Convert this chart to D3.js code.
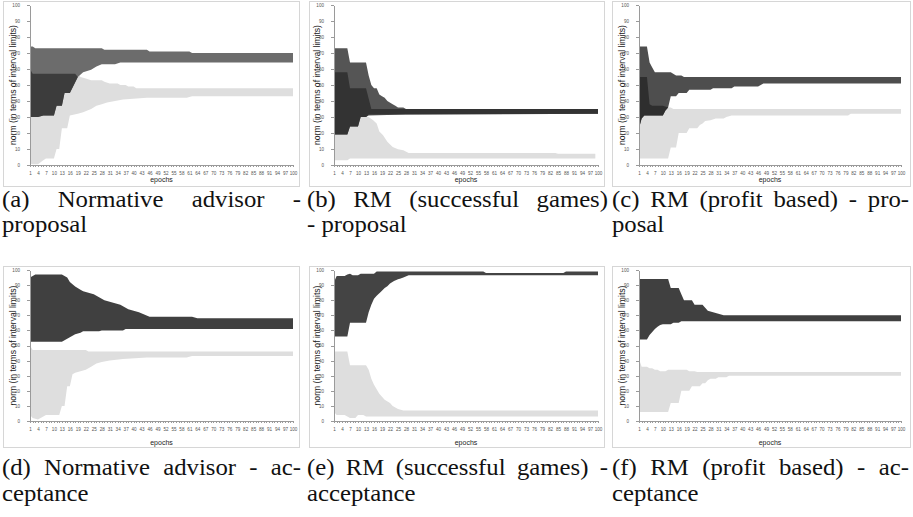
<!DOCTYPE html>
<html>
<head>
<meta charset="utf-8">
<script src="https://cdn.jsdelivr.net/npm/d3@7"></script>
<style>
body { margin:0; background:#fff; }
svg { display:block; }
.axis text { font-family:"Liberation Sans", Arial, sans-serif; fill:#555; }
.axis path, .axis line { stroke:#9a9a9a; shape-rendering:crispEdges; }
</style>
</head>
<body>
<div id="chart-area"></div>
<script>
/*
*    six interval charts, [epoch, norm] breakpoints
*/

var yTicks = [0,10,20,30,40,50,60,70,80,90,100];
var xLabels = [1,4,7,10,13,16,19,22,25,28,31,34,37,40,43,46,49,52,55,58,61,64,67,70,73,76,79,82,85,88,91,94,97,100];

// (a) normative advisor - proposal
var aLightLo = [[1,1],[2,0.5],[4,0.5],[6,3],[7,4],[10,4],[11,10],[12,10],[13,23],[15,23],[16,31],[19,32],[21,33],[24,35],[26,37],[28,38],[30,39],[33,40],[36,41],[45,42],[60,42],[62,43],[100,43]];
var aLightHi = [[1,60],[2,57],[19,57],[20,55],[22,54],[24,53],[28,53],[29,52],[31,51],[34,51],[35,50],[37,50],[38,49],[40,49],[41,48],[100,48]];
var aMidLo = [[1,30],[4,30],[6,31],[10,31],[11,37],[13,37],[14,45],[16,45],[19,55],[21,58],[24,59.5],[26,61.5],[28,63],[33,63],[35,64],[100,64]];
var aMidHi = [[1,74],[2,74],[3,73],[28,73],[29,72],[45,72],[46,71],[61,71],[62,70],[100,70]];
var aDarkLo = [[1,30],[4,30],[6,31],[10,31],[11,37],[13,37],[14,45],[16,45],[19,55]];
var aDarkHi = [[1,60],[2,57],[18,57],[19,55]];

// (b) RM (successful games) - proposal
var bLightLo = [[1,3],[6,3],[7,4],[99,4]];
var bLightHi = [[1,19],[6,19],[7,24],[10,24],[11,30],[14,30],[15.7,28],[17,26],[18,21],[19.4,18.6],[21,14.5],[23,11.3],[25,9.8],[27,9.2],[29,7.5],[84,7.5],[85,7],[99,7]];
var bMidLo = [[1,19],[6,19],[7,24],[10,24],[11,30],[13,30],[14,31],[28,31.5],[100,32]];
var bMidHi = [[1,73],[6,73],[7,64],[13,64],[14,56],[15,50],[16,48],[17,48],[18,44],[19,43],[20,42],[21,40],[23,38],[24,37],[25,36],[27,36],[28,35],[100,35]];
var bDarkLo = [[1,19],[6,19],[7,24],[10,24],[11,30],[13,30],[14,31.5],[100,32]];
var bDarkHi = [[1,58],[6,58],[7,48],[13,48],[15,35],[100,35]];

// (c) RM (profit based) - proposal
var cLightLo = [[1,4],[12,4],[13,11],[15,11],[16,20],[19,20],[20,23],[23,23],[24,25],[25,26],[26,27.5],[28,28],[30,29],[33,29],[34,30],[36,31],[80,31],[81,32],[100,32]];
var cLightHi = [[1,23],[2,29],[3,31],[10,31],[11,34],[12,36],[13,36],[14,35],[100,35]];
var cMidLo = [[1,23],[2,29],[3,31],[10,31],[11,34],[12,36],[13,43],[15,43],[16,45],[19,45],[20,47],[28,47],[29,48],[36,48],[37,49],[46,49],[48,51],[100,51]];
var cMidHi = [[1,74],[4,74],[5,64],[6,61],[7,58],[13,58],[15,56],[17,56],[18,55],[100,55]];
var cDarkLo = [[1,23],[2,29],[3,31],[10,31],[11,34],[12,36]];
var cDarkHi = [[1,55],[4,55],[5,38],[6,37],[10,37],[12,36]];

// (d) normative advisor - acceptance
var dLightLo = [[1,4],[2,2],[4,1],[6,3],[7,4],[12,4],[13,10],[14,10],[15,23],[16,23],[17,31],[18,32],[20,33],[22,34],[24,36],[26,38],[28,39],[31,40],[36,41],[45,42],[60,42],[62,43],[100,43]];
var dLightHi = [[1,50],[2,47],[22,47],[23,46],[100,46]];
var dDarkLo = [[1,52.5],[13,52.5],[14,53.5],[16,55.5],[17,56.5],[18,57.5],[19,58],[20,58.5],[21,59.5],[27,59.5],[28,60],[36,60],[37,61],[100,61]];
var dDarkHi = [[1,95],[3,97],[13,97],[14,96],[15,95],[16,92],[18,89],[20,87],[21,86],[23,85],[25,84],[26,83],[27,82],[29,80],[31,79],[33,78],[35,77],[37,75],[38,74],[40,73],[42,72],[44,70.5],[46,69],[62,69],[64,68],[100,68]];

// (e) RM (successful games) - acceptance
var eLightLo = [[1,6],[2,4],[5,4],[6,3],[7,2],[9,2],[10,4],[12,4],[13,3],[100,3]];
var eLightHi = [[1,46],[6,46],[7,37],[13,37],[14,34],[15,28],[16,24],[17,21],[18,18],[19,16],[20,14],[22,12],[23,10],[25,8],[27,7],[100,7]];
var eDarkLo = [[1,56],[6,56],[7,65],[13,65],[14,72],[15,77],[16,81],[17,83],[18.5,85.5],[20,88],[21,89.3],[22,91],[23.5,92.7],[25,93.8],[26,94.4],[27,95],[29,96.5],[100,96.5]];
var eDarkHi = [[1,92],[2,96],[5,96],[6,97],[7,97.5],[8,96.5],[10,96.5],[11,97.5],[16,97.5],[17,99],[57,99],[58,98],[87,98],[88,99],[100,99]];

// (f) RM (profit based) - acceptance
var fLightLo = [[1,6],[12,6],[13,12],[16,12],[17,20],[20,20],[21,23],[24,23],[25,25],[26,25],[27,27],[28,28],[30,28],[31,29],[34,29],[35,30],[100,30]];
var fLightHi = [[1,41],[2,36],[4,36],[5,35],[6,35],[7,34],[8,34],[9,33],[11,33],[12,34],[19,34],[20,33],[22,33],[23,32.5],[100,32.5]];
var fDarkLo = [[1,54],[4,54],[5,57],[6,59],[7,61],[8,62.5],[9,63.5],[10,64],[13,64],[14,65],[16,65],[17,66],[100,66]];
var fDarkHi = [[1,94],[12,94],[13,88],[16,88],[17,84],[18,80],[21,80],[22,77],[25,77],[26,75],[27,73],[29,72],[31,71],[33,70],[100,70]];

var captions = [
    ["(a) Normative advisor -", "proposal"],
    ["(b) RM (successful games)", "- proposal"],
    ["(c) RM (profit based) - pro-", "posal"],
    ["(d) Normative advisor - ac-", "ceptance"],
    ["(e) RM (successful games) -", "acceptance"],
    ["(f) RM (profit based) - ac-", "ceptance"]
];

var light = "#dedede", mid = "#6c6c6c", mid2 = "#555555", dark = "#3c3c3c";

var panels = [
    { col:0, row:0, bands:[
        {lo:aLightLo, hi:aLightHi, fill:light},
        {lo:aMidLo, hi:aMidHi, fill:mid},
        {lo:aDarkLo, hi:aDarkHi, fill:dark}] },
    { col:1, row:0, bands:[
        {lo:bLightLo, hi:bLightHi, fill:light},
        {lo:bMidLo, hi:bMidHi, fill:mid2},
        {lo:bDarkLo, hi:bDarkHi, fill:"#333333"}] },
    { col:2, row:0, bands:[
        {lo:cLightLo, hi:cLightHi, fill:light},
        {lo:cMidLo, hi:cMidHi, fill:"#4e4e4e"},
        {lo:cDarkLo, hi:cDarkHi, fill:"#2e2e2e"}] },
    { col:0, row:1, bands:[
        {lo:dLightLo, hi:dLightHi, fill:light},
        {lo:dDarkLo, hi:dDarkHi, fill:"#404040"}] },
    { col:1, row:1, bands:[
        {lo:eLightLo, hi:eLightHi, fill:light},
        {lo:eDarkLo, hi:eDarkHi, fill:"#444444"}] },
    { col:2, row:1, bands:[
        {lo:fLightLo, hi:fLightHi, fill:light},
        {lo:fDarkLo, hi:fDarkHi, fill:"#404040"}] }
];

// layout
var cols = [
    { box:[3,299], plot:[30,293], cap:[2,301] },
    { box:[309,604], plot:[334,598], cap:[307,608] },
    { box:[612,910], plot:[639,901], cap:[612,909] }
];
var rows = [
    { box:[1,186], plot:[5,165], epochs:182, cap:[207,232] },
    { box:[266,447], plot:[270,421], epochs:445, cap:[475,501] }
];

// caption font: serif, stretched a little to get the width of the LaTeX face
var capSize = 22.5, capStretch = 1.1;

var svg = d3.select("#chart-area").append("svg")
    .attr("width", 913)
    .attr("height", 517);

var allEpochs = d3.range(1, 101);

function capText(str, x, y) {
    return svg.append("text")
        .attr("transform", "translate(" + x + "," + y + ") scale(" + capStretch + ",1)")
        .style("font-family", "Liberation Serif, Times New Roman, serif")
        .style("font-size", capSize + "px")
        .attr("fill", "#111")
        .text(str);
}

panels.forEach(function(p, i){
    var c = cols[p.col], r = rows[p.row];

    // panel frame
    svg.append("rect")
        .attr("x", c.box[0] + 0.5)
        .attr("y", r.box[0] + 0.5)
        .attr("width", c.box[1] - c.box[0])
        .attr("height", r.box[1] - r.box[0])
        .attr("fill", "none")
        .attr("stroke", "#d6d6d6");

    var x = d3.scaleLinear().domain([1, 100]).range(c.plot);
    var y = d3.scaleLinear().domain([0, 100]).range([r.plot[1], r.plot[0]]);

    var g = svg.append("g");

    var line = d3.line()
        .x(function(d){ return x(d[0]); })
        .y(function(d){ return y(d[1]); });

    p.bands.forEach(function(b){
        var pts = b.hi.concat(b.lo.slice().reverse());
        g.append("path")
            .attr("d", line(pts) + "Z")
            .attr("fill", b.fill);
    });

    // axes
    var yAxis = g.append("g")
        .attr("class", "axis")
        .attr("transform", "translate(" + c.plot[0] + ",0)")
        .call(d3.axisLeft(y).tickValues(yTicks).tickSize(3).tickSizeOuter(0).tickPadding(7));
    yAxis.selectAll("text").style("font-size", "4.6px");

    var xAxis = g.append("g")
        .attr("class", "axis")
        .attr("transform", "translate(0," + r.plot[1] + ")")
        .call(d3.axisBottom(x).tickValues(allEpochs).tickSize(2).tickSizeOuter(0).tickPadding(5)
            .tickFormat(function(d){ return xLabels.indexOf(d) >= 0 ? d : ""; }));
    xAxis.selectAll("text").style("font-size", "4.6px");

    // axis titles
    g.append("text")
        .attr("transform", "translate(" + (c.plot[0] - 17) + "," + ((r.plot[0] + r.plot[1]) / 2) + ") rotate(-90)")
        .attr("text-anchor", "middle")
        .attr("dy", "0.35em")
        .style("font-family", "Liberation Sans, Arial, sans-serif")
        .style("font-size", "8.6px")
        .attr("fill", "#222")
        .text("norm (in terms of interval limits)");

    g.append("text")
        .attr("x", (c.plot[0] + c.plot[1]) / 2)
        .attr("y", r.epochs)
        .attr("text-anchor", "middle")
        .style("font-family", "Liberation Sans, Arial, sans-serif")
        .style("font-size", "7px")
        .attr("fill", "#222")
        .text("epochs");

    // caption, first line justified like the LaTeX original
    var cap = captions[i];
    var words = cap[0].split(" ");
    var nodes = words.map(function(w){ return capText(w, 0, r.cap[0]); });
    var widths = nodes.map(function(t){ return t.node().getComputedTextLength() * capStretch; });
    var gap = (c.cap[1] - c.cap[0] - d3.sum(widths)) / (words.length - 1);
    var cx = c.cap[0];
    nodes.forEach(function(t, k){
        t.attr("transform", "translate(" + cx + "," + r.cap[0] + ") scale(" + capStretch + ",1)");
        cx += widths[k] + gap;
    });

    capText(cap[1], c.cap[0], r.cap[1]);
});
</script>
</body>
</html>
